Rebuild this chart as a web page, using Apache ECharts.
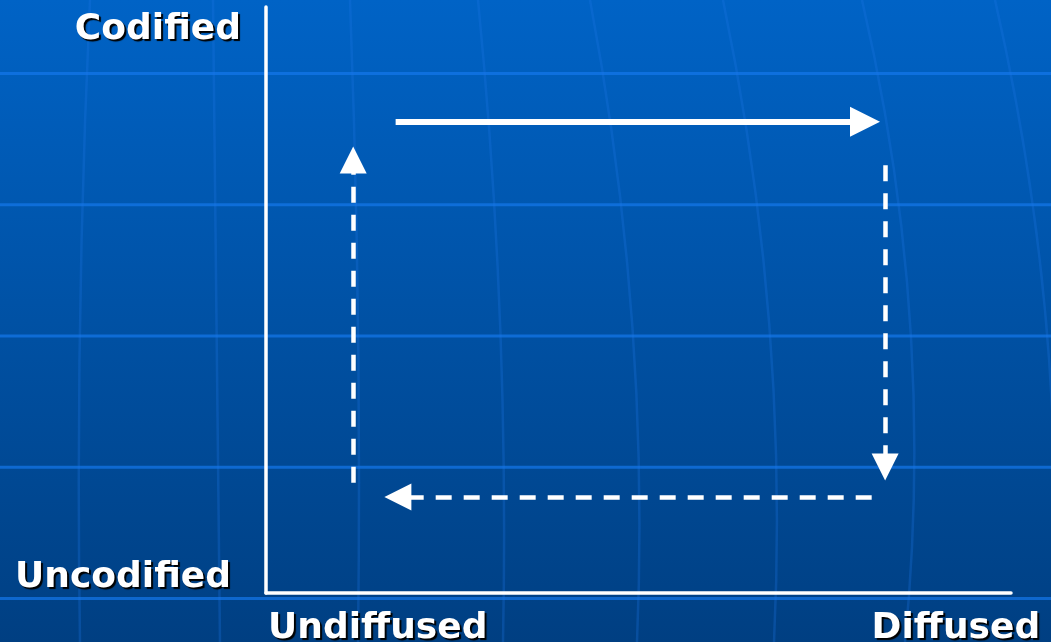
<!DOCTYPE html>
<html>
<head>
<meta charset="utf-8">
<script src="https://cdn.jsdelivr.net/npm/echarts@6/dist/echarts.min.js"></script>
<style>
  html, body { margin: 0; padding: 0; }
  #chart { width: 1051px; height: 642px; }
</style>
</head>
<body>
<div id="chart"></div>
<script>
// axis end labels and where they sit on a 0-100 scale
const xLabels = ['Undiffused', 'Diffused']
const xLabelPos = [15.0, 92.6]
const yLabels = ['Uncodified', 'Codified']
const yLabelPos = [2.6, 96.2]

// the knowledge cycle: one solid arrow, three dashed ones
const solidFrom = [[17.4, 80.4]]
const solidTo = [[80.4, 80.4]]
const dashFrom = [[83.1, 73.0], [81.3, 16.4], [11.7, 18.8]]
const dashTo = [[83.1, 21.5], [17.7, 16.4], [11.7, 73.9]]

const W = 1051
const H = 642

// backdrop: gradient + faint grid lines like the slide template
const bgLines = []
bgLines.push({
  type: 'rect', z: -20, silent: true,
  shape: { x: 0, y: 0, width: W, height: H },
  style: {
    fill: new echarts.graphic.LinearGradient(0, 0, 0, 1, [
      { offset: 0, color: '#0063c6' },
      { offset: 1, color: '#003f82' },
    ]),
  },
})
for (let k = 0; k < 5; k++) {
  const y = 73.5 + k * 131.25
  bgLines.push({
    type: 'line', z: -19, silent: true,
    shape: { x1: 0, y1: y, x2: W, y2: y },
    style: { stroke: 'rgba(20,120,235,0.7)', lineWidth: 3 },
  })
}
// meridian-ish curves: [top, middle, bottom] x
const curves = [
  [90, 80, 80], [213, 216, 220], [350, 358, 358], [478, 500, 503],
  [590, 632, 637], [723, 769, 774], [862, 910, 905], [995, 1046, 1052],
]
curves.forEach(c => {
  bgLines.push({
    type: 'bezierCurve', z: -19, silent: true,
    shape: {
      x1: c[0], y1: 0, x2: c[2], y2: H,
      cpx1: 2 * c[1] - 0.5 * (c[0] + c[2]), cpy1: H / 2,
    },
    style: { stroke: 'rgba(30,120,230,0.28)', lineWidth: 2.5, fill: null },
  })
})

const labelFont = {
  color: '#fff',
  fontFamily: 'DejaVu Sans',
  fontWeight: 'bold',
  fontSize: 36,
  textShadowColor: '#000',
  textShadowOffsetX: 2,
  textShadowOffsetY: 2,
  textShadowBlur: 1,
}

const toLines = (from, to) => from.map((f, i) => ({ coords: [f, to[i]] }))

const chart = echarts.init(document.getElementById('chart'))
chart.setOption({
  animation: false,
  graphic: bgLines,
  grid: { left: 266, top: 7, right: 40, bottom: 49, outerBoundsMode: 'none', containLabel: false },
  xAxis: {
    type: 'value',
    min: 0,
    max: 100,
    axisLine: { show: true, lineStyle: { color: '#fff', width: 3.5 } },
    axisTick: { show: false },
    splitLine: { show: false },
    axisLabel: {
      customValues: xLabelPos,
      margin: 36,
      verticalAlign: 'middle',
      ...labelFont,
      formatter: v => xLabels[xLabelPos.indexOf(v)] || '',
    },
  },
  yAxis: {
    type: 'value',
    min: 0,
    max: 100,
    axisLine: { show: true, lineStyle: { color: '#fff', width: 3.5 } },
    axisTick: { show: false },
    splitLine: { show: false },
    axisLabel: {
      customValues: yLabelPos,
      margin: 25,
      ...labelFont,
      formatter: v => {
        const i = yLabelPos.indexOf(v)
        return i === 0 ? '{lo|' + yLabels[i] + '}' : '{hi|' + yLabels[i] + '}'
      },
      rich: {
        lo: { ...labelFont, padding: [0, 10, 0, 0] },
        hi: { ...labelFont },
      },
    },
  },
  series: [
    {
      type: 'lines',
      coordinateSystem: 'cartesian2d',
      symbol: ['none', 'triangle'],
      symbolSize: [29, 30],
      lineStyle: { color: '#fff', width: 6, type: 'solid', opacity: 1 },
      itemStyle: { color: '#fff' },
      data: toLines(solidFrom, solidTo),
    },
    {
      type: 'lines',
      coordinateSystem: 'cartesian2d',
      symbol: ['none', 'triangle'],
      symbolSize: [26, 27],
      lineStyle: { color: '#fff', width: 4.5, type: [16, 12], opacity: 1 },
      itemStyle: { color: '#fff' },
      data: toLines(dashFrom, dashTo),
    },
  ],
})
</script>
</body>
</html>
